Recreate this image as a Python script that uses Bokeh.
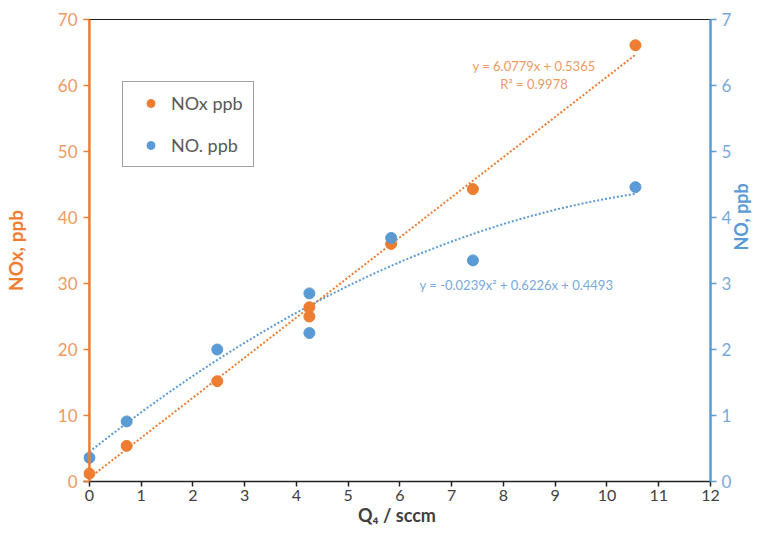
from bokeh.plotting import figure
from bokeh.models import Range1d, LinearAxis, FixedTicker, Legend, LegendItem, Label, Span
from bokeh.embed import file_html
from bokeh.resources import INLINE
import numpy as np
import math

# ---- data ----
q4 = [0.0, 0.72, 2.47, 4.25, 4.25, 5.83, 7.41, 10.55]
nox_ppb = [1.2, 5.4, 15.2, 26.4, 25.0, 36.0, 44.3, 66.1]
q4_no = [0.0, 0.72, 2.47, 4.25, 4.25, 5.83, 7.41, 10.55]
no_ppb = [0.36, 0.91, 2.0, 2.85, 2.25, 3.69, 3.35, 4.46]

x_ticks = list(range(0, 13))
nox_ticks = [0, 10, 20, 30, 40, 50, 60, 70]
no_ticks = [0, 1, 2, 3, 4, 5, 6, 7]

# trendline coefficients printed on the chart
lin_slope, lin_icpt = 6.0779, 0.5365
quad_a, quad_b, quad_c = -0.0239, 0.6226, 0.4493
eq_nox = "y = 6.0779x + 0.5365"
r2_nox = "R\u00b2 = 0.9978"
eq_no = "y = -0.0239x\u00b2 + 0.6226x + 0.4493"

ORANGE = "#ED7D31"
ORANGE_LT = "#EE9A62"
BLUE = "#5B9BD5"
BLUE_LT = "#79A9DA"
FONT = "Lato"

p = figure(width=766, height=528, output_backend="svg", toolbar_location=None,
           x_range=Range1d(-0.1143, 12), y_range=Range1d(0, 70),
           min_border_left=83, min_border_right=47, min_border_top=19, min_border_bottom=44)
p.xgrid.visible = False
p.ygrid.visible = False
p.outline_line_color = None
p.background_fill_color = "white"
p.border_fill_color = "white"
p.extra_y_ranges = {"no": Range1d(0, 7)}

# x axis
xa = p.xaxis[0]
xa.ticker = FixedTicker(ticks=x_ticks)
xa.axis_label = "Q\u2084 / sccm"
xa.axis_label_text_font = FONT
xa.axis_label_text_font_style = "bold"
xa.axis_label_text_font_size = "18px"
xa.axis_label_text_color = "#404040"
xa.axis_label_standoff = 0
xa.major_label_text_font = FONT
xa.major_label_text_font_size = "16px"
xa.major_label_text_color = "#404040"
xa.major_label_standoff = 3
xa.axis_line_color = "#222222"
xa.axis_line_width = 1.5
xa.major_tick_line_color = "#222222"
xa.major_tick_line_width = 1.5
xa.major_tick_out = 5
xa.major_tick_in = 0
xa.minor_tick_line_color = None

# left axis (line drawn as a span at x = 0)
ya = p.yaxis[0]
ya.ticker = FixedTicker(ticks=nox_ticks)
ya.axis_label = "NOx, ppb"
ya.axis_label_text_font = FONT
ya.axis_label_text_font_style = "bold"
ya.axis_label_text_font_size = "19px"
ya.axis_label_text_color = ORANGE
ya.axis_label_standoff = 28
ya.major_label_text_font = FONT
ya.major_label_text_font_size = "17px"
ya.major_label_text_color = ORANGE_LT
ya.major_label_standoff = 6
ya.axis_line_color = None
ya.major_tick_line_color = ORANGE
ya.major_tick_line_width = 1.5
ya.major_tick_out = 0
ya.major_tick_in = 6
ya.minor_tick_line_color = None
p.add_layout(Span(location=0, dimension="height", line_color=ORANGE, line_width=2.5))

# top frame line
ta = LinearAxis(ticker=FixedTicker(ticks=[]), axis_line_color="#222222", axis_line_width=1,
                major_label_text_font_size="0px", minor_tick_line_color=None,
                major_tick_line_color=None)
p.add_layout(ta, "above")

# right axis
ra = LinearAxis(y_range_name="no", ticker=FixedTicker(ticks=no_ticks))
ra.axis_label = "NO, ppb"
ra.axis_label_text_font = FONT
ra.axis_label_text_font_style = "bold"
ra.axis_label_text_font_size = "18px"
ra.axis_label_text_color = BLUE
ra.axis_label_standoff = 7
if "axis_label_orientation" in ra.properties():
    ra.axis_label_orientation = math.pi / 2
ra.major_label_text_font = FONT
ra.major_label_text_font_size = "17px"
ra.major_label_text_color = BLUE_LT
ra.major_label_standoff = 5
ra.axis_line_color = BLUE
ra.axis_line_width = 2.5
ra.major_tick_line_color = BLUE
ra.major_tick_line_width = 1.5
ra.major_tick_out = 6
ra.major_tick_in = 0
ra.minor_tick_line_color = None
p.add_layout(ra, "right")

# trendlines
xs_lin = np.linspace(min(q4), max(q4), 50)
p.line(xs_lin, lin_slope * xs_lin + lin_icpt, line_color=ORANGE, line_width=2, line_dash="2 2")
xs_q = np.linspace(min(q4_no), max(q4_no), 100)
p.line(xs_q, quad_a * xs_q ** 2 + quad_b * xs_q + quad_c, line_color=BLUE, line_width=2,
       line_dash="2 2", y_range_name="no")

# points
r_nox = p.scatter(q4, nox_ppb, size=11, fill_color=ORANGE, line_color=ORANGE)
r_no = p.scatter(q4_no, no_ppb, size=11, fill_color=BLUE, line_color=BLUE, y_range_name="no")

# equations
p.add_layout(Label(x=8.59, y=63.0, text=eq_nox, text_align="center", text_baseline="middle",
                   text_font=FONT, text_font_size="13px", text_color=ORANGE_LT))
p.add_layout(Label(x=8.59, y=60.3, text=r2_nox, text_align="center", text_baseline="middle",
                   text_font=FONT, text_font_size="13px", text_color=ORANGE_LT))
p.add_layout(Label(x=8.25, y=2.98, y_range_name="no", text=eq_no, text_align="center",
                   text_baseline="middle", text_font=FONT, text_font_size="13px", text_color=BLUE_LT))

legend = Legend(items=[LegendItem(label="NOx ppb", renderers=[r_nox]),
                       LegendItem(label="NO. ppb", renderers=[r_no])],
                location=(39, 314), border_line_color="#444444", border_line_width=1,
                label_text_font=FONT, label_text_font_size="18px", label_text_color="#595959",
                padding=10, spacing=20, glyph_height=20, glyph_width=35, label_height=20,
                label_standoff=3, margin=0, background_fill_alpha=1)
p.add_layout(legend, "center")

open("out.html", "w").write(file_html(p, INLINE))
